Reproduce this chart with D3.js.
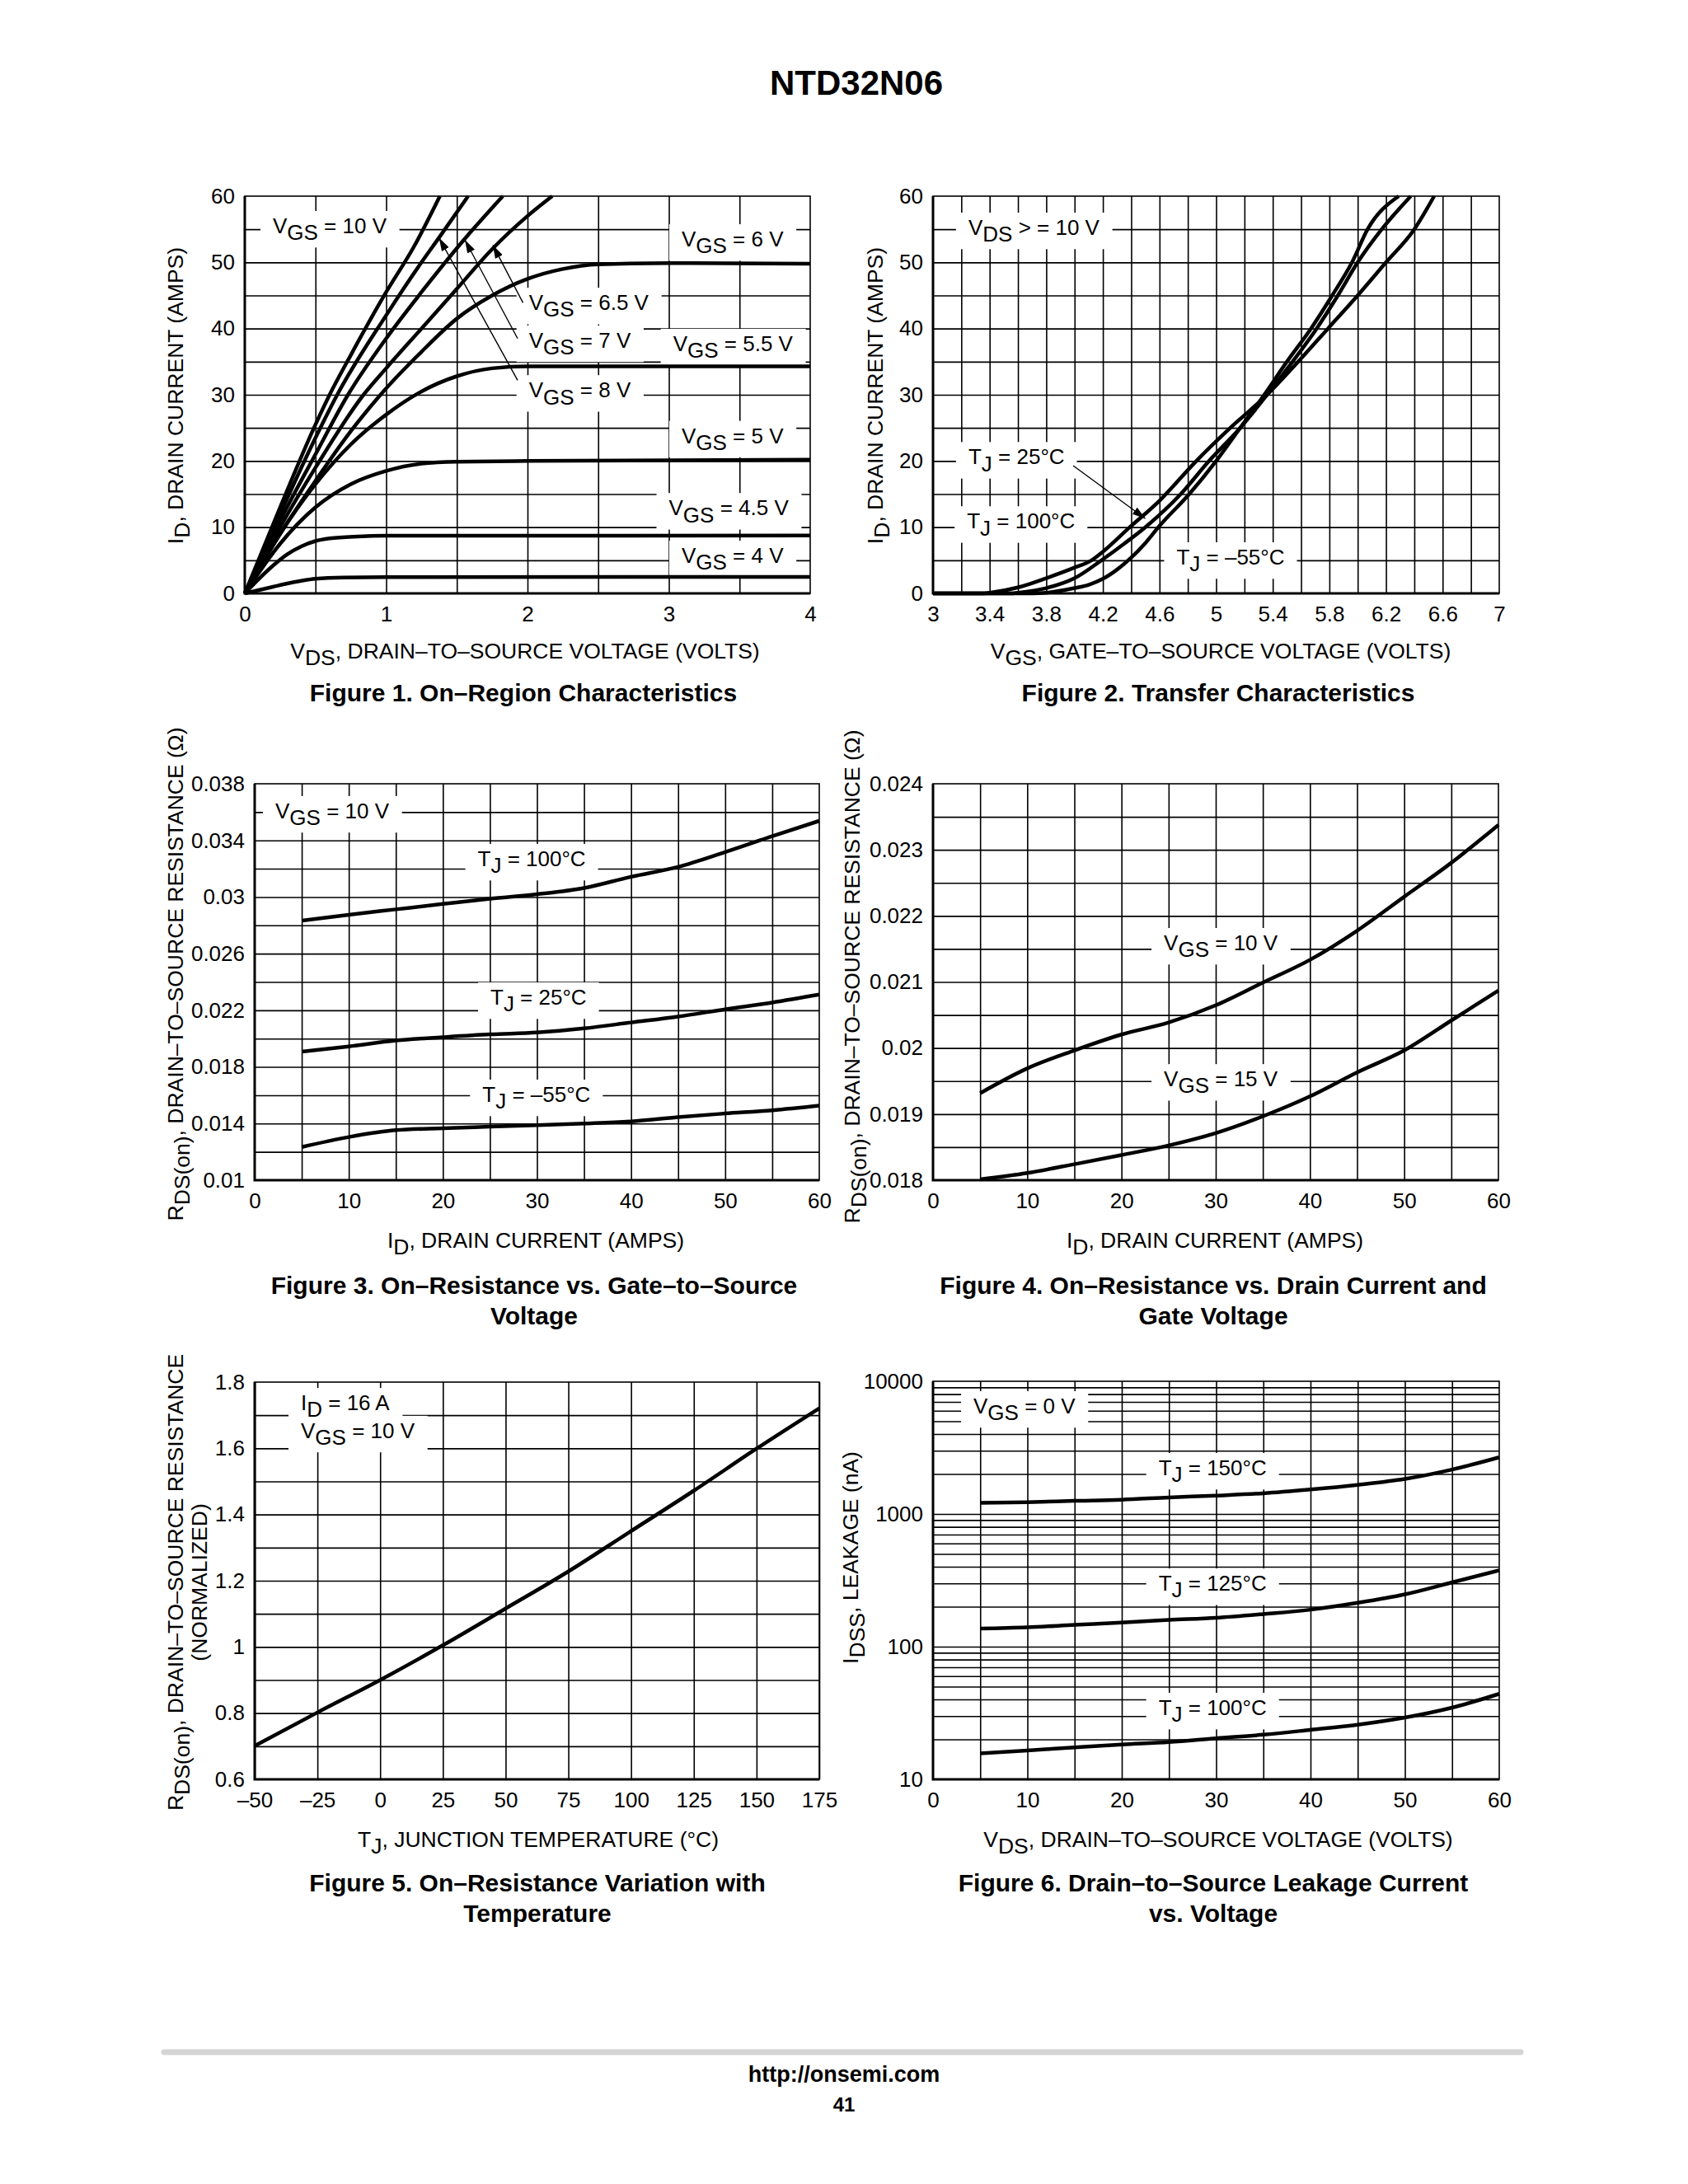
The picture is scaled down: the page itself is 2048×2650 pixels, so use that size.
<!DOCTYPE html>
<html>
<head>
<meta charset="utf-8">
<script src="https://cdn.jsdelivr.net/npm/d3@7"></script>
<style>
  body { margin: 0; background: #fff; }
  svg text { font-family: "Liberation Sans", Arial, Helvetica, sans-serif; fill: #000; }
</style>
</head>
<body>
<svg id="page" width="2048" height="2650"></svg>
<script>
// ---------------- data ----------------

// Figure 1: On-region characteristics, [VDS (V), ID (A)]
var f1Vgs10  = [[0,0],[0.25,13],[0.5,25.5],[0.6,30],[0.75,36],[1.0,45.5],[1.2,52.5],[1.38,60]];
var f1Vgs8   = [[0,0],[0.25,12],[0.5,23.5],[0.654,30],[1.0,42],[1.25,50],[1.37,53.6],[1.58,60]];
var f1Vgs7   = [[0,0],[0.25,11],[0.5,21],[0.73,30],[1.0,38.5],[1.25,45.5],[1.55,53.4],[1.825,60]];
var f1Vgs65  = [[0,0],[0.25,10],[0.5,19],[0.84,30],[1.0,34],[1.25,40],[1.5,46],[1.75,52],[2.0,57],[2.175,60]];
var f1Vgs6   = [[0,0],[0.25,9],[0.5,17],[0.75,24.5],[0.96,30],[1.25,36.5],[1.5,41.5],[1.75,45],[2.0,47.5],[2.25,49],[2.5,49.7],[3.0,49.9],[4.0,49.8]];
var f1Vgs55  = [[0,0],[0.25,9],[0.5,16.5],[0.75,22.5],[1.0,27],[1.25,30.5],[1.5,32.8],[1.75,34],[2.0,34.3],[4.0,34.3]];
var f1Vgs5   = [[0,0],[0.25,7.5],[0.5,13],[0.75,16.5],[1.0,18.5],[1.25,19.6],[1.5,19.9],[2.0,20.0],[4.0,20.2]];
var f1Vgs45  = [[0,0],[0.1,2.2],[0.2,4.2],[0.3,5.9],[0.4,7.1],[0.5,7.9],[0.6,8.3],[0.8,8.6],[1.0,8.7],[4.0,8.75]];
var f1Vgs4   = [[0,0],[0.1,0.5],[0.2,1.0],[0.3,1.5],[0.4,1.9],[0.5,2.2],[0.7,2.4],[1.0,2.45],[4.0,2.5]];

// Figure 2: transfer characteristics, [VGS (V), ID (A)]
var f2Tj100 = [[3.0,0],[3.35,0],[3.4,0.1],[3.6,0.9],[3.8,2.3],[4.0,3.9],[4.12,5],[4.2,6.3],[4.39,10],[4.6,14],[4.86,20],[5.1,25],[5.36,30],[5.58,35],[5.79,40],[6.0,45],[6.2,50],[6.4,55],[6.54,60]];
var f2Tj25  = [[3.0,0],[3.55,0],[3.6,0.1],[3.8,0.8],[4.0,2.3],[4.19,5],[4.35,7.5],[4.5,10],[4.75,15],[4.95,20],[5.17,25],[5.36,30],[5.54,35],[5.71,40],[5.86,45],[6.0,50],[6.17,55],[6.375,60]];
var f2TjM55 = [[3.0,0],[3.7,0],[3.8,0.1],[4.0,0.8],[4.1,1.3],[4.2,2.2],[4.3,3.6],[4.4,5.4],[4.5,7.6],[4.6,10.2],[4.81,15],[5.0,20],[5.17,25],[5.34,30],[5.5,35],[5.67,40],[5.82,45],[5.96,50],[6.07,55],[6.29,60]];

// Figures 3, 4, 6 share the same current / voltage points
var currentPoints = [5, 10, 15, 20, 25, 30, 35, 40, 45, 50, 55, 60];

// Figure 3: RDS(on) vs ID at three temperatures (ohm)
var f3Tj100 = [0.02833, 0.02875, 0.02913, 0.02951, 0.02988, 0.03020, 0.03064, 0.03143, 0.03213, 0.03318, 0.03430, 0.03538];
var f3Tj25  = [0.01908, 0.01945, 0.01987, 0.02010, 0.02030, 0.02043, 0.02072, 0.02114, 0.02156, 0.02207, 0.02255, 0.02311];
var f3TjM55 = [0.01234, 0.01305, 0.01353, 0.01367, 0.01378, 0.01389, 0.01400, 0.01415, 0.01446, 0.01471, 0.01494, 0.01527];

// Figure 4: RDS(on) vs ID at two gate voltages (ohm)
var f4Vgs10 = [0.019317, 0.019692, 0.019964, 0.020205, 0.020387, 0.020647, 0.020990, 0.021335, 0.021776, 0.022290, 0.022804, 0.023378];
var f4Vgs15 = [0.018012, 0.018109, 0.018242, 0.018381, 0.018526, 0.018713, 0.018967, 0.019269, 0.019631, 0.019964, 0.020417, 0.020870];

// Figure 5: normalized RDS(on) vs junction temperature
var f5Temps = [-50, -25, 0, 25, 50, 75, 100, 125, 150, 175];
var f5Rdson = [0.701, 0.802, 0.900, 1.005, 1.116, 1.228, 1.350, 1.472, 1.599, 1.721];

// Figure 6: IDSS leakage vs VDS (nA)
var f6Tj150 = [1213, 1227, 1255, 1282, 1332, 1376, 1431, 1529, 1657, 1835, 2160, 2672];
var f6Tj125 = [137, 140, 146, 152, 159, 165, 176, 190, 214, 248, 305, 376];
var f6Tj100 = [15.7, 16.5, 17.4, 18.3, 19.1, 20.4, 21.7, 23.6, 25.8, 29.2, 34.7, 44.1];

// tick labels / grid positions
var f1XTicks = [0, 1, 2, 3, 4];
var f1XGrid  = [0.5, 1, 1.5, 2, 2.5, 3, 3.5];
var f1YTicks = [0, 10, 20, 30, 40, 50, 60];
var f1YGrid  = [5, 10, 15, 20, 25, 30, 35, 40, 45, 50, 55];
var f2XTicks = [3, 3.4, 3.8, 4.2, 4.6, 5, 5.4, 5.8, 6.2, 6.6, 7];
var f2XGrid  = [3.2, 3.4, 3.6, 3.8, 4, 4.2, 4.4, 4.6, 4.8, 5, 5.2, 5.4, 5.6, 5.8, 6, 6.2, 6.4, 6.6, 6.8];
var idTicks  = [0, 10, 20, 30, 40, 50, 60];
var idGrid   = [5, 10, 15, 20, 25, 30, 35, 40, 45, 50, 55];
var f3YTicks = [0.01, 0.014, 0.018, 0.022, 0.026, 0.03, 0.034, 0.038];
var f3YGrid  = [0.012, 0.014, 0.016, 0.018, 0.02, 0.022, 0.024, 0.026, 0.028, 0.03, 0.032, 0.034, 0.036];
var f4YTicks = [0.018, 0.019, 0.02, 0.021, 0.022, 0.023, 0.024];
var f4YGrid  = [0.0185, 0.019, 0.0195, 0.02, 0.0205, 0.021, 0.0215, 0.022, 0.0225, 0.023, 0.0235];
var f5XTicks = [-50, -25, 0, 25, 50, 75, 100, 125, 150, 175];
var f5YTicks = [0.6, 0.8, 1, 1.2, 1.4, 1.6, 1.8];
var f5YGrid  = [0.7, 0.8, 0.9, 1.0, 1.1, 1.2, 1.3, 1.4, 1.5, 1.6, 1.7];
var f6YTicks = [10, 100, 1000, 10000];
var f6YGrid  = [20, 30, 40, 50, 60, 70, 80, 90, 100, 200, 300, 400, 500, 600, 700, 800, 900,
                1000, 2000, 3000, 4000, 5000, 6000, 7000, 8000, 9000];

// ---------------- drawing ----------------

var svg = d3.select("#page");
var TICK_SIZE = 26;
var TITLE_SIZE = 26.5;
var LABEL_SIZE = 26;
var CAPTION_SIZE = 30;

svg.append("defs").append("marker")
  .attr("id", "arrowHead")
  .attr("markerUnits", "userSpaceOnUse")
  .attr("viewBox", "0 0 16 10")
  .attr("refX", 16).attr("refY", 5)
  .attr("markerWidth", 16).attr("markerHeight", 10)
  .attr("orient", "auto")
  .append("path").attr("d", "M0,0 L16,5 L0,10 Z").attr("fill", "#000");

// text with _{sub} subscripts
function rich(sel, str) {
  var parts = str.split(/(_\{[^}]*\})/);
  var down = false;
  parts.forEach(function(p) {
    if (!p) return;
    var t = sel.append("tspan");
    if (p.indexOf("_{") === 0) {
      t.text(p.slice(2, -1)).attr("dy", "0.32em");
      down = true;
    } else {
      t.text(p);
      if (down) { t.attr("dy", "-0.32em"); down = false; }
    }
  });
  return sel;
}

function dashFormat(d) { return String(d).replace("-", "\u2013"); }

function drawPanel(p) {
  var x = d3.scaleLinear().domain(p.xDomain).range([p.left, p.left + p.width]);
  var y = (p.log ? d3.scaleLog() : d3.scaleLinear())
    .domain(p.yDomain).range([p.top + p.height, p.top]);

  var g = svg.append("g");
  var gridLayer = g.append("g");
  var boxLayer = g.append("g");
  var curveLayer = g.append("g");
  var textLayer = g.append("g");

  // grid
  gridLayer.append("g")
    .attr("transform", `translate(0,${p.top})`)
    .call(d3.axisBottom(x).tickValues(p.xGrid).tickSize(p.height).tickFormat(""));
  gridLayer.append("g")
    .attr("transform", `translate(${p.left},0)`)
    .call(d3.axisRight(y).tickValues(p.yGrid).tickSize(p.width).tickFormat(""));
  gridLayer.selectAll(".domain").remove();
  gridLayer.selectAll("line").attr("stroke", "#000").attr("stroke-width", 1.6);

  // frame: thin top/right, heavier left/bottom
  g.append("rect")
    .attr("x", p.left).attr("y", p.top)
    .attr("width", p.width).attr("height", p.height)
    .attr("fill", "none").attr("stroke", "#000").attr("stroke-width", 1.6);
  g.append("path")
    .attr("d", `M${p.left},${p.top} V${p.top + p.height} H${p.left + p.width}`)
    .attr("fill", "none").attr("stroke", "#000").attr("stroke-width", 3);

  // tick labels
  var xa = g.append("g")
    .attr("transform", `translate(0,${p.top + p.height})`)
    .call(d3.axisBottom(x).tickValues(p.xTicks).tickSize(0).tickPadding(16).tickFormat(dashFormat));
  var ya = g.append("g")
    .attr("transform", `translate(${p.left},0)`)
    .call(d3.axisLeft(y).tickValues(p.yTicks).tickSize(0).tickPadding(p.yPad || 12).tickFormat(dashFormat));
  [xa, ya].forEach(function(a) {
    a.select(".domain").remove();
    a.attr("font-size", TICK_SIZE).attr("font-family", null);
    a.selectAll("text").attr("fill", "#000");
  });

  // curves
  var line = d3.line()
    .x(function(d) { return x(d[0]); })
    .y(function(d) { return y(d[1]); })
    .curve(d3.curveMonotoneX);
  p.curves.forEach(function(c) {
    curveLayer.append("path")
      .datum(c)
      .attr("d", line)
      .attr("fill", "none")
      .attr("stroke", "#000")
      .attr("stroke-width", 4.5)
      .attr("stroke-linejoin", "round");
  });

  // in-plot labels on white boxes
  (p.labels || []).forEach(function(l) {
    var t = textLayer.append("text")
      .attr("x", x(l.at[0])).attr("y", y(l.at[1]))
      .attr("font-size", LABEL_SIZE);
    rich(t, l.text);
    var bb = t.node().getBBox();
    boxLayer.append("rect")
      .attr("x", bb.x - 15).attr("y", bb.y - 3)
      .attr("width", bb.width + 30).attr("height", bb.height + 6)
      .attr("fill", "#fff");
  });

  // pointer arrows
  (p.arrows || []).forEach(function(a) {
    textLayer.append("line")
      .attr("x1", x(a.from[0])).attr("y1", y(a.from[1]))
      .attr("x2", x(a.to[0])).attr("y2", y(a.to[1]))
      .attr("stroke", "#000").attr("stroke-width", 1.4)
      .attr("marker-end", "url(#arrowHead)");
  });

  // axis titles and caption
  g.append("text")
    .attr("x", p.xTitle.x).attr("y", p.xTitle.y)
    .attr("text-anchor", "middle").attr("font-size", TITLE_SIZE)
    .call(rich, p.xTitle.text);
  p.yTitle.lines.forEach(function(str, i) {
    g.append("text")
      .attr("transform", `translate(${p.yTitle.x + i * 29},${p.yTitle.y}) rotate(-90)`)
      .attr("text-anchor", "middle").attr("font-size", TITLE_SIZE)
      .call(rich, str);
  });
  p.caption.lines.forEach(function(str, i) {
    g.append("text")
      .attr("x", p.caption.x).attr("y", p.caption.y + i * 37)
      .attr("text-anchor", "middle").attr("font-size", CAPTION_SIZE).attr("font-weight", "bold")
      .text(str);
  });
}

function zipSeries(xs, ys) { return d3.zip(xs, ys); }

// page title
svg.append("text")
  .attr("x", 1039).attr("y", 115)
  .attr("text-anchor", "middle").attr("font-size", 42).attr("font-weight", "bold")
  .text("NTD32N06");

// Figure 1
drawPanel({
  left: 297, top: 238, width: 686, height: 482,
  xDomain: [0, 4], yDomain: [0, 60],
  xTicks: f1XTicks, xGrid: f1XGrid, yTicks: f1YTicks, yGrid: f1YGrid,
  curves: [f1Vgs10, f1Vgs8, f1Vgs7, f1Vgs65, f1Vgs6, f1Vgs55, f1Vgs5, f1Vgs45, f1Vgs4],
  labels: [
    { text: "V_{GS} = 10 V", at: [0.198, 54.4] },
    { text: "V_{GS} = 6 V", at: [3.09, 52.4] },
    { text: "V_{GS} = 6.5 V", at: [2.01, 42.8] },
    { text: "V_{GS} = 7 V", at: [2.01, 37.1] },
    { text: "V_{GS} = 5.5 V", at: [3.03, 36.6] },
    { text: "V_{GS} = 8 V", at: [2.01, 29.6] },
    { text: "V_{GS} = 5 V", at: [3.09, 22.7] },
    { text: "V_{GS} = 4.5 V", at: [3.0, 11.8] },
    { text: "V_{GS} = 4 V", at: [3.09, 4.6] }
  ],
  arrows: [
    { from: [1.968, 43.9], to: [1.755, 52.6] },
    { from: [1.93, 38.5], to: [1.557, 53.4] },
    { from: [1.93, 32.2], to: [1.374, 53.7] }
  ],
  xTitle: { x: 637, y: 799, text: "V_{DS}, DRAIN\u2013TO\u2013SOURCE VOLTAGE (VOLTS)" },
  yTitle: { x: 222, y: 480, lines: ["I_{D}, DRAIN CURRENT (AMPS)"] },
  caption: { x: 635, y: 851, lines: ["Figure 1. On\u2013Region Characteristics"] }
});

// Figure 2
drawPanel({
  left: 1132, top: 238, width: 687, height: 482,
  xDomain: [3, 7], yDomain: [0, 60],
  xTicks: f2XTicks, xGrid: f2XGrid, yTicks: f1YTicks, yGrid: f1YGrid,
  curves: [f2Tj100, f2Tj25, f2TjM55],
  labels: [
    { text: "V_{DS} > = 10 V", at: [3.25, 54.15] },
    { text: "T_{J} = 25\u00B0C", at: [3.25, 19.5] },
    { text: "T_{J} = 100\u00B0C", at: [3.24, 9.8] },
    { text: "T_{J} = \u201355\u00B0C", at: [4.72, 4.36] }
  ],
  arrows: [
    { from: [3.99, 19.3], to: [4.50, 11.3] }
  ],
  xTitle: { x: 1481, y: 799, text: "V_{GS}, GATE\u2013TO\u2013SOURCE VOLTAGE (VOLTS)" },
  yTitle: { x: 1071, y: 480, lines: ["I_{D}, DRAIN CURRENT (AMPS)"] },
  caption: { x: 1478, y: 851, lines: ["Figure 2. Transfer Characteristics"] }
});

// Figure 3
drawPanel({
  left: 309, top: 951, width: 685, height: 481,
  xDomain: [0, 60], yDomain: [0.01, 0.038],
  xTicks: idTicks, xGrid: idGrid, yTicks: f3YTicks, yGrid: f3YGrid,
  curves: [zipSeries(currentPoints, f3Tj100), zipSeries(currentPoints, f3Tj25), zipSeries(currentPoints, f3TjM55)],
  labels: [
    { text: "V_{GS} = 10 V", at: [2.19, 0.03556] },
    { text: "T_{J} = 100\u00B0C", at: [23.7, 0.03218] },
    { text: "T_{J} = 25\u00B0C", at: [25.05, 0.0224] },
    { text: "T_{J} = \u201355\u00B0C", at: [24.2, 0.01553] }
  ],
  xTitle: { x: 650, y: 1514, text: "I_{D}, DRAIN CURRENT (AMPS)" },
  yTitle: { x: 222, y: 1182, lines: ["R_{DS(on)}, DRAIN\u2013TO\u2013SOURCE RESISTANCE (\u03A9)"] },
  caption: { x: 648, y: 1570, lines: ["Figure 3. On\u2013Resistance vs. Gate\u2013to\u2013Source", "Voltage"] }
});

// Figure 4
drawPanel({
  left: 1132, top: 951, width: 686, height: 481,
  xDomain: [0, 60], yDomain: [0.018, 0.024],
  xTicks: idTicks, xGrid: idGrid, yTicks: f4YTicks, yGrid: f4YGrid,
  curves: [zipSeries(currentPoints, f4Vgs10), zipSeries(currentPoints, f4Vgs15)],
  labels: [
    { text: "V_{GS} = 10 V", at: [24.5, 0.02148] },
    { text: "V_{GS} = 15 V", at: [24.5, 0.01942] }
  ],
  xTitle: { x: 1474, y: 1514, text: "I_{D}, DRAIN CURRENT (AMPS)" },
  yTitle: { x: 1043, y: 1185, lines: ["R_{DS(on)}, DRAIN\u2013TO\u2013SOURCE RESISTANCE (\u03A9)"] },
  caption: { x: 1472, y: 1570, lines: ["Figure 4. On\u2013Resistance vs. Drain Current and", "Gate Voltage"] }
});

// Figure 5
drawPanel({
  left: 309, top: 1677, width: 685, height: 482,
  xDomain: [-50, 175], yDomain: [0.6, 1.8],
  xTicks: f5XTicks, xGrid: f5XTicks, yTicks: f5YTicks, yGrid: f5YGrid,
  curves: [zipSeries(f5Temps, f5Rdson)],
  labels: [
    { text: "I_{D} = 16 A", at: [-31.6, 1.715] },
    { text: "V_{GS} = 10 V", at: [-31.6, 1.631] }
  ],
  xTitle: { x: 653, y: 2241, text: "T_{J}, JUNCTION TEMPERATURE (\u00B0C)" },
  yTitle: { x: 222, y: 1920, lines: ["R_{DS(on)}, DRAIN\u2013TO\u2013SOURCE RESISTANCE", "(NORMALIZED)"] },
  caption: { x: 652, y: 2295, lines: ["Figure 5. On\u2013Resistance Variation with", "Temperature"] }
});

// Figure 6
drawPanel({
  left: 1132, top: 1676, width: 687, height: 483, log: true,
  xDomain: [0, 60], yDomain: [10, 10000],
  xTicks: idTicks, xGrid: idGrid, yTicks: f6YTicks, yGrid: f6YGrid,
  curves: [zipSeries(currentPoints, f6Tj150), zipSeries(currentPoints, f6Tj125), zipSeries(currentPoints, f6Tj100)],
  labels: [
    { text: "V_{GS} = 0 V", at: [4.28, 5728] },
    { text: "T_{J} = 150\u00B0C", at: [23.9, 1959] },
    { text: "T_{J} = 125\u00B0C", at: [23.9, 264] },
    { text: "T_{J} = 100\u00B0C", at: [23.9, 30.5] }
  ],
  xTitle: { x: 1478, y: 2241, text: "V_{DS}, DRAIN\u2013TO\u2013SOURCE VOLTAGE (VOLTS)" },
  yTitle: { x: 1041, y: 1890, lines: ["I_{DSS}, LEAKAGE (nA)"] },
  caption: { x: 1472, y: 2295, lines: ["Figure 6. Drain\u2013to\u2013Source Leakage Current", "vs. Voltage"] }
});

// footer
svg.append("line")
  .attr("x1", 199).attr("x2", 1845)
  .attr("y1", 2490).attr("y2", 2490)
  .attr("stroke", "#d4d4d4").attr("stroke-width", 7).attr("stroke-linecap", "round");
svg.append("text")
  .attr("x", 1024).attr("y", 2526)
  .attr("text-anchor", "middle").attr("font-size", 27).attr("font-weight", "bold")
  .text("http://onsemi.com");
svg.append("text")
  .attr("x", 1024).attr("y", 2562)
  .attr("text-anchor", "middle").attr("font-size", 24).attr("font-weight", "bold")
  .text("41");
</script>
</body>
</html>
